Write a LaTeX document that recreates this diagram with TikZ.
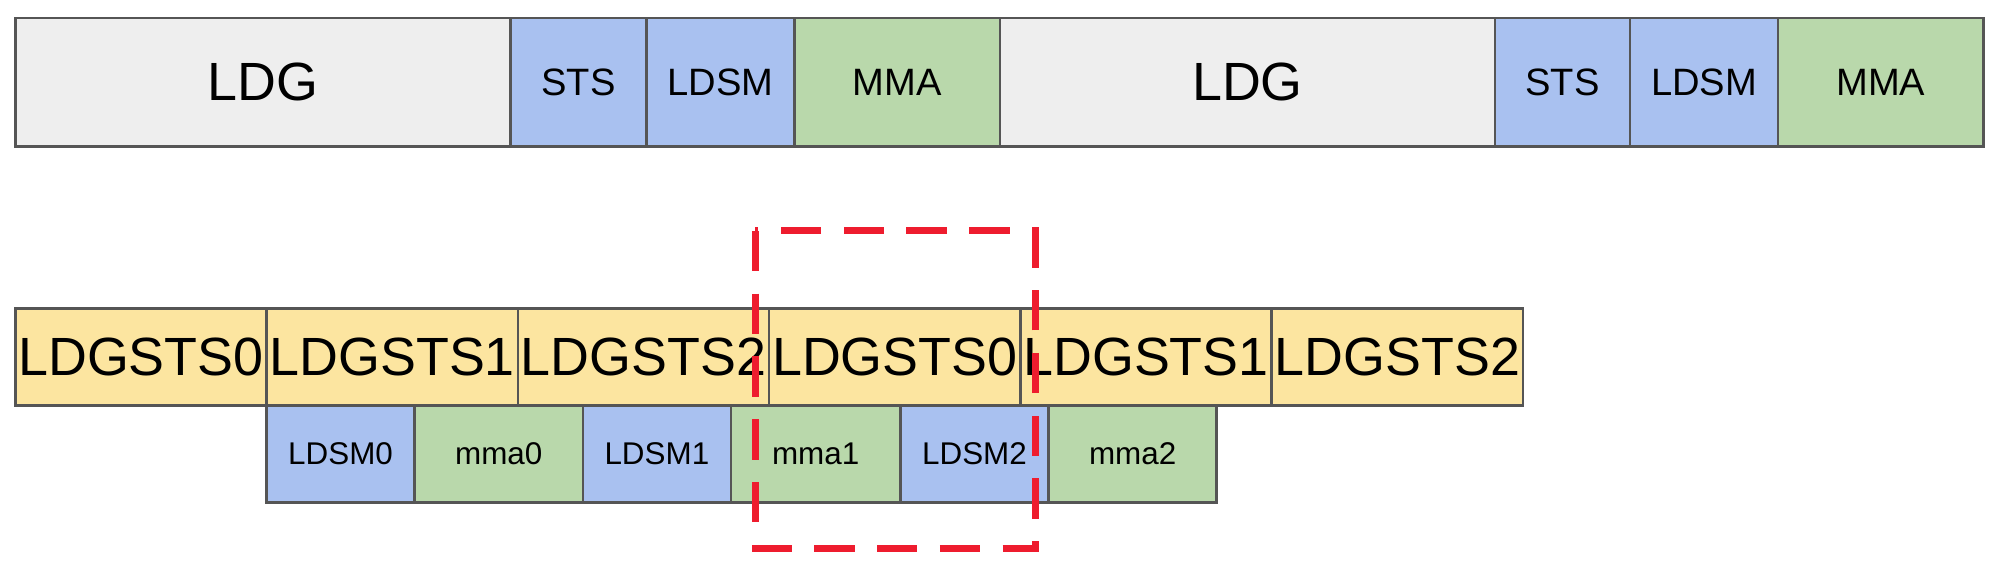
\documentclass[tikz,border=0pt]{standalone}
\usepackage{fontspec}
\setmainfont{Liberation Sans}
\definecolor{cg}{HTML}{EEEEEE}
\definecolor{cb}{HTML}{A9C1F0}
\definecolor{cgr}{HTML}{B9D8AB}
\definecolor{cy}{HTML}{FCE5A0}
\definecolor{bd}{HTML}{555555}
\definecolor{rd}{HTML}{EE1C2E}
\begin{document}
\begin{tikzpicture}[x=0.01cm,y=-0.01cm,
 box/.style={draw=bd,line width=0.6pt,inner sep=0pt},
 big/.style={font=\fontsize{12}{14}\selectfont},
 mid/.style={font=\fontsize{8.5}{10}\selectfont},
 sm/.style={font=\fontsize{7}{8}\selectfont}]
\useasboundingbox (0,0) rectangle (1568,451);
\newcommand{\bx}[7]{\filldraw[box,fill=#6] (#2,#3) rectangle (#4,#5) node[pos=0.5,#7,text=black] (#1) {\csname bxtxt\endcsname};}
% top row
\foreach \n/\a/\b/\c/\t/\s in {t1/12/400/cg/LDG/big,t2/400/507/cb/STS/mid,t3/507/623/cb/LDSM/mid,t4/623/784/cgr/MMA/mid,t5/784/1172/cg/LDG/big,t6/1172/1278/cb/STS/mid,t7/1278/1394/cb/LDSM/mid,t8/1394/1555/cgr/MMA/mid}
 {\filldraw[box,fill=\c] (\a,14) rectangle (\b,115) node[pos=0.5,\s] (\n) {\t};}
% second row
\foreach \n/\a/\b/\t in {m1/12/209/LDGSTS0,m2/209/406/LDGSTS1,m3/406/603/LDGSTS2,m4/603/800/LDGSTS0,m5/800/997/LDGSTS1,m6/997/1194/LDGSTS2}
 {\filldraw[box,fill=cy] (\a,242) rectangle (\b,318) node[pos=0.5,big] (\n) {\t};}
% third row
\foreach \n/\a/\b/\c/\t in {b1/209/325/cb/LDSM0,b2/325/457/cgr/mma0,b3/457/573/cb/LDSM1,b4/573/706/cgr/mma1,b5/706/822/cb/LDSM2,b6/822/954/cgr/mma2}
 {\filldraw[box,fill=\c] (\a,318) rectangle (\b,394) node[pos=0.5,sm] (\n) {\t};}
\draw[rd,line width=1.6pt,dash pattern=on 9pt off 5pt] (592,181) rectangle (812,430);
\end{tikzpicture}
\end{document}
